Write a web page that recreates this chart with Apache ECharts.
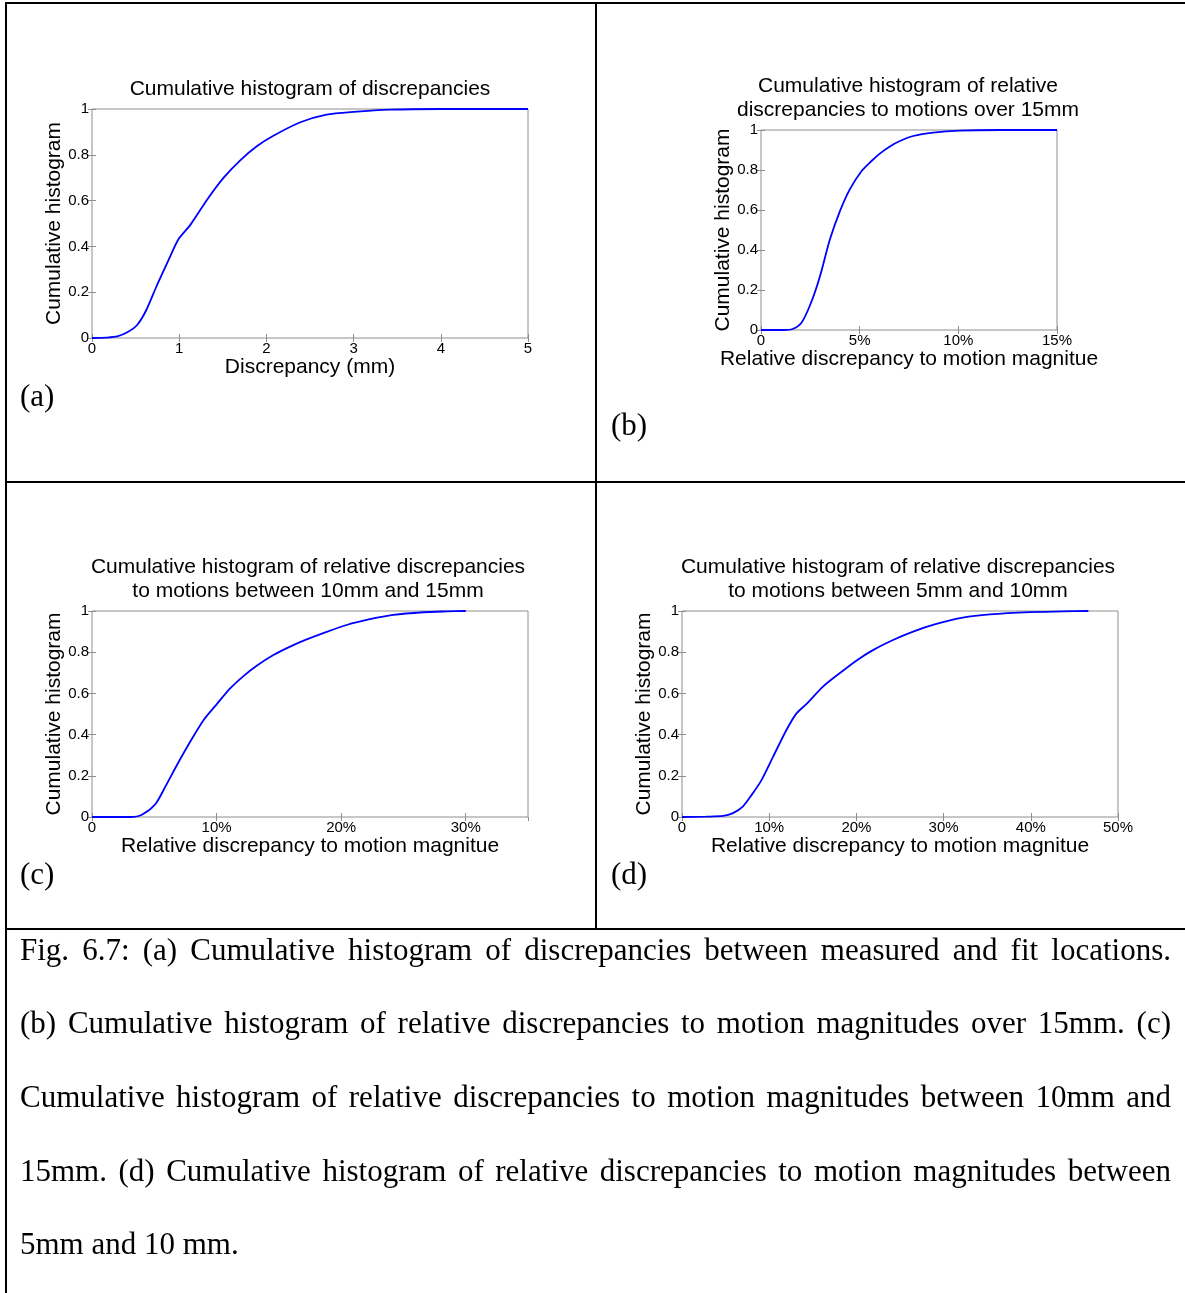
<!DOCTYPE html>
<html>
<head>
<meta charset="utf-8">
<title>Cumulative histograms of discrepancies</title>
<script src="https://cdn.jsdelivr.net/npm/echarts@6/dist/echarts.min.js"></script>
<style>
  html, body { margin: 0; padding: 0; background: #fff; }
  #page { position: relative; width: 1185px; height: 1293px; overflow: hidden; }
  #chart { position: absolute; left: 0; top: 0; width: 1185px; height: 1293px; }
  .cap {
    position: absolute; left: 20px; width: 1151px; height: 40px;
    font-family: "Liberation Serif", "Times New Roman", serif; font-size: 31px;
    line-height: 40px; color: #000;
    text-align: justify; text-align-last: justify;
  }
  .cap.last { text-align: left; text-align-last: left; }
</style>
</head>
<body>
<div id="page">
  <div id="chart"></div>
  <div class="cap" style="top:930px">Fig. 6.7: (a) Cumulative histogram of discrepancies between measured and fit locations.</div>
  <div class="cap" style="top:1003px">(b) Cumulative histogram of relative discrepancies to motion magnitudes over 15mm. (c)</div>
  <div class="cap" style="top:1077px">Cumulative histogram of relative discrepancies to motion magnitudes between 10mm and</div>
  <div class="cap" style="top:1151px">15mm. (d) Cumulative histogram of relative discrepancies to motion magnitudes between</div>
  <div class="cap last" style="top:1224px">5mm and 10 mm.</div>
</div>
<script>
// (a) discrepancy between measured and fitted locations, mm
const discA = [0, 0.17, 0.29, 0.41, 0.52, 0.62, 0.74, 0.88, 0.99, 1.13, 1.32, 1.51, 1.70, 1.89, 2.08, 2.39, 2.69, 3.0, 3.42, 3.99, 5];
const cumA  = [0, 0.002, 0.007, 0.026, 0.058, 0.12, 0.226, 0.342, 0.43, 0.495, 0.604, 0.70, 0.776, 0.837, 0.883, 0.942, 0.975, 0.987, 0.997, 1.0, 1.0];

// (b) relative discrepancy (%) for motions over 15mm
const relB = [0, 1.13, 1.6, 2.06, 2.53, 2.99, 3.49, 4.0, 4.5, 5.1, 5.6, 6.02, 6.53, 7.04, 7.71, 8.72, 10.07, 12.1, 15];
const cumB = [0, 0, 0.005, 0.038, 0.135, 0.269, 0.452, 0.594, 0.703, 0.795, 0.845, 0.882, 0.918, 0.945, 0.97, 0.987, 0.997, 1, 1];

// (c) relative discrepancy (%) for motions between 10mm and 15mm
const relC = [0, 3.07, 4.0, 5.08, 5.88, 6.81, 7.88, 8.95, 10.02, 11.09, 12.16, 13.22, 14.56, 15.9, 17.23, 18.84, 20.44, 22.31, 24.18, 26.58, 28.45, 30];
const cumC = [0, 0, 0.011, 0.062, 0.146, 0.251, 0.365, 0.47, 0.548, 0.624, 0.684, 0.734, 0.786, 0.827, 0.862, 0.899, 0.932, 0.96, 0.981, 0.994, 0.998, 1];

// (d) relative discrepancy (%) for motions between 5mm and 10mm
const relD = [0, 2.79, 4.7, 5.85, 7.0, 7.95, 9.1, 10.44, 11.96, 13.11, 14.26, 16.17, 18.08, 19.99, 21.9, 24.2, 26.5, 29.17, 32.2, 35.3, 39.9, 43.7, 46.6];
const cumD = [0, 0.002, 0.005, 0.019, 0.052, 0.105, 0.178, 0.292, 0.421, 0.502, 0.548, 0.633, 0.698, 0.759, 0.81, 0.859, 0.9, 0.937, 0.968, 0.984, 0.995, 0.998, 1];

// axis ranges and tick steps
const xMaxes = [5, 15, 35, 50];
const xSteps = [1, 5, 10, 10];

const titles = [
  'Cumulative histogram of discrepancies',
  'Cumulative histogram of relative\ndiscrepancies to motions over 15mm',
  'Cumulative histogram of relative discrepancies\nto motions between 10mm and 15mm',
  'Cumulative histogram of relative discrepancies\nto motions between 5mm and 10mm'
];
const xNames = [
  'Discrepancy (mm)',
  'Relative discrepancy to motion magnitue',
  'Relative discrepancy to motion magnitue',
  'Relative discrepancy to motion magnitue'
];
const yName = 'Cumulative histogram';
const panelTags = ['(a)', '(b)', '(c)', '(d)'];

const SANS = '"Liberation Sans", Arial, sans-serif';
const SERIF = '"Liberation Serif", "Times New Roman", serif';
const BOX = '#8e8e8e';
const CURVE = '#0000ff';

// layout of the four plot boxes
const boxes = [
  { left: 92,  top: 109, width: 436, height: 229 },
  { left: 761, top: 130, width: 296, height: 200 },
  { left: 92,  top: 611, width: 436, height: 206 },
  { left: 682, top: 611, width: 436, height: 206 }
];
const titlePos = [[310, 89], [908, 98], [308, 579], [898, 579]];
const tagPos = [[20, 398], [611, 427], [20, 876], [611, 876]];
const yNameGaps = [25, 23, 25, 23];

const xData = [discA, relB, relC, relD];
const yData = [cumA, cumB, cumC, cumD];

const grid = [], xAxis = [], yAxis = [], series = [], graphic = [];

const tickStyle = { show: true, inside: true, length: 4, lineStyle: { color: BOX, width: 1 } };

boxes.forEach((b, i) => {
  grid.push(Object.assign({ show: true, borderColor: BOX, borderWidth: 1, backgroundColor: '#fff', containLabel: false }, b));
  const pct = i > 0;
  // bottom axis with labels and name
  xAxis.push({
    type: 'value', gridIndex: i, position: 'bottom', min: 0, max: xMaxes[i], interval: xSteps[i],
    axisLine: { show: false }, splitLine: { show: false }, axisTick: tickStyle,
    axisLabel: {
      show: true, margin: 3, color: '#000', fontFamily: SANS, fontSize: 15, showMaxLabel: i !== 2,
      formatter: v => (v === 0 ? '0' : (pct ? v + '%' : String(v)))
    },
    name: xNames[i], nameLocation: 'middle', nameGap: 17,
    nameTextStyle: { color: '#000', fontFamily: SANS, fontSize: 21 }
  });
  // top mirror axis: ticks only
  xAxis.push({
    type: 'value', gridIndex: i, position: 'top', min: 0, max: xMaxes[i], interval: xSteps[i],
    axisLine: { show: false }, splitLine: { show: false }, axisTick: tickStyle, axisLabel: { show: false }
  });
  // left axis with labels and name
  yAxis.push({
    type: 'value', gridIndex: i, position: 'left', min: 0, max: 1, interval: 0.2,
    axisLine: { show: false }, splitLine: { show: false }, axisTick: tickStyle,
    axisLabel: {
      show: true, margin: 3, color: '#000', fontFamily: SANS, fontSize: 15,
      formatter: v => String(+v.toFixed(1))
    },
    name: yName, nameLocation: 'middle', nameGap: yNameGaps[i],
    nameTextStyle: { color: '#000', fontFamily: SANS, fontSize: 21 }
  });
  // right mirror axis: ticks only
  yAxis.push({
    type: 'value', gridIndex: i, position: 'right', min: 0, max: 1, interval: 0.2,
    axisLine: { show: false }, splitLine: { show: false }, axisTick: tickStyle, axisLabel: { show: false }
  });

  series.push({
    type: 'line', xAxisIndex: 2 * i, yAxisIndex: 2 * i,
    data: xData[i].map((x, k) => [x, yData[i][k]]),
    showSymbol: false, symbol: 'none', smooth: 0.25, clip: true,
    lineStyle: { color: CURVE, width: 1.8 }, z: 5
  });

  graphic.push({
    type: 'text', x: titlePos[i][0], y: titlePos[i][1], z: 10,
    style: { text: titles[i], fill: '#000', font: '21px ' + SANS, align: 'center', verticalAlign: 'middle', lineHeight: 24 }
  });
  graphic.push({
    type: 'text', x: tagPos[i][0], y: tagPos[i][1], z: 10,
    style: { text: panelTags[i], fill: '#000', font: '31px ' + SERIF, align: 'left', verticalAlign: 'middle' }
  });
});

// table rules around the four panels
const rules = [
  [5, 2, 1180, 2],
  [5, 2, 2, 1291],
  [595, 2, 2, 928],
  [5, 481, 1180, 2],
  [5, 928, 1180, 2]
];
rules.forEach(r => graphic.push({
  type: 'rect', z: 20, shape: { x: r[0], y: r[1], width: r[2], height: r[3] }, style: { fill: '#000' }
}));

const chart = echarts.init(document.getElementById('chart'), null, { renderer: 'canvas' });
chart.setOption({
  animation: false,
  backgroundColor: '#fff',
  grid, xAxis, yAxis, series, graphic
});
</script>
</body>
</html>
